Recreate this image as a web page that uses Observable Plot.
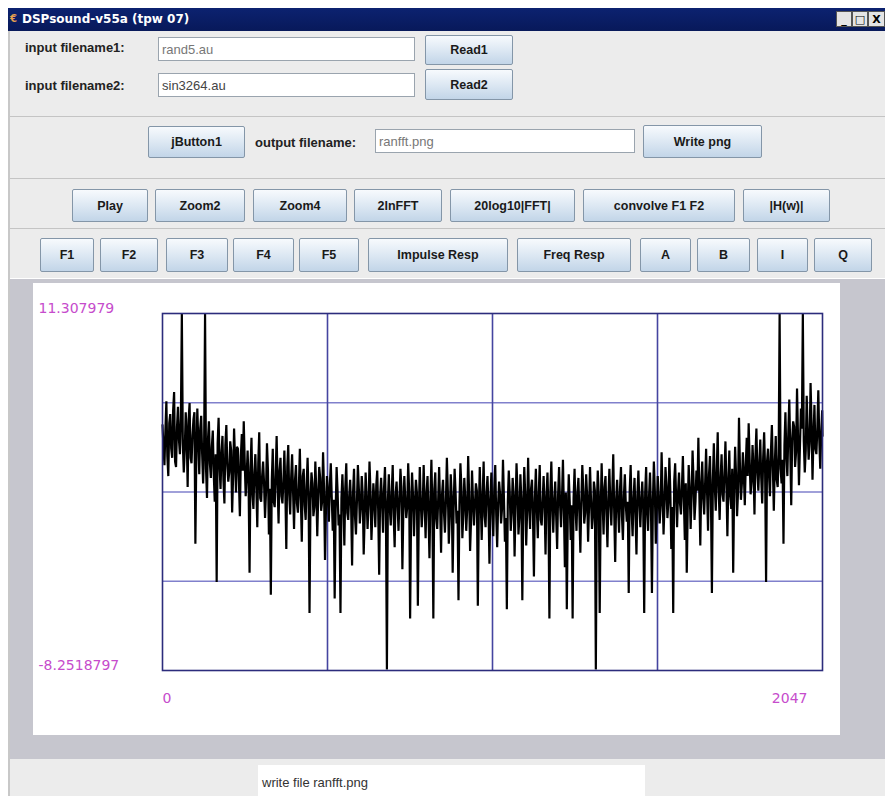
<!DOCTYPE html>
<html><head><meta charset="utf-8">
<script src="https://cdn.jsdelivr.net/npm/d3@7"></script>
<script src="https://cdn.jsdelivr.net/npm/@observablehq/plot@0.6"></script>
<style>
body{margin:0;width:885px;height:796px;overflow:hidden;background:#ffffff;font-family:"Liberation Sans",Arial,sans-serif;position:relative}
.a{position:absolute;box-sizing:border-box}
.title{left:8px;top:8px;width:877px;height:23px;background:linear-gradient(#0c2270,#08195a);color:#fff;font:bold 12px "DejaVu Sans";line-height:23px;padding-left:14px}
.win{left:8px;top:31px;width:877px;height:765px;background:#ececec;border-left:2px solid #c8c8c8}
.panel{left:10px;width:875px;border-top:1px solid #c4c4c4;border-bottom:1px solid #ffffff}
.lbl{font:bold 13px "Liberation Sans";color:#222;white-space:nowrap}
.fld{background:#fff;border:1px solid #9aa4ae;font:13px "Liberation Sans";color:#777;padding-left:3px;display:flex;align-items:center}
.btn{border:1px solid #8496a8;border-radius:2px;background:linear-gradient(#f7fafd 0%,#dde8f3 50%,#c2d5e8 100%);font:bold 12.5px "Liberation Sans";color:#1a1a1a;display:flex;align-items:center;justify-content:center;white-space:nowrap}
.wb{top:11px;width:16px;height:16px;background:#e4e4e4;border:1px solid #555;font:bold 11px "DejaVu Sans";color:#000;display:flex;align-items:center;justify-content:center}
</style></head>
<body>
<div class="a title">DSPsound-v55a (tpw 07)</div>
<div class="a" style="left:10px;top:13px;width:7px;height:14px;color:#e8a050;font:bold 10px 'DejaVu Sans'">&#8364;</div>
<div class="a wb" style="left:836px">_</div>
<div class="a wb" style="left:852px">&#9633;</div>
<div class="a wb" style="left:868px;width:17px">X</div>
<div class="a win"></div>
<div class="a panel" style="top:116px;height:63px"></div>
<div class="a panel" style="top:178px;height:51px"></div>
<div class="a panel" style="top:228px;height:51px"></div>

<div class="a lbl" style="left:25px;top:40px">input filename1:</div>
<div class="a fld" style="left:158px;top:37px;width:257px;height:24px">rand5.au</div>
<div class="a btn" style="left:425px;top:35px;width:88px;height:30px">Read1</div>
<div class="a lbl" style="left:25px;top:78px">input filename2:</div>
<div class="a fld" style="left:158px;top:73px;width:257px;height:24px;color:#444">sin3264.au</div>
<div class="a btn" style="left:425px;top:69px;width:88px;height:31px">Read2</div>

<div class="a btn" style="left:148px;top:126px;width:97px;height:32px">jButton1</div>
<div class="a lbl" style="left:255px;top:135px">output filename:</div>
<div class="a fld" style="left:375px;top:129px;width:260px;height:24px">ranfft.png</div>
<div class="a btn" style="left:643px;top:125px;width:119px;height:33px">Write png</div>

<div class="a btn" style="left:72px;top:189px;width:76px;height:33px">Play</div>
<div class="a btn" style="left:155px;top:189px;width:90px;height:33px">Zoom2</div>
<div class="a btn" style="left:253px;top:189px;width:94px;height:33px">Zoom4</div>
<div class="a btn" style="left:354px;top:189px;width:88px;height:33px">2lnFFT</div>
<div class="a btn" style="left:450px;top:189px;width:125px;height:33px">20log10|FFT|</div>
<div class="a btn" style="left:583px;top:189px;width:152px;height:33px">convolve F1 F2</div>
<div class="a btn" style="left:743px;top:189px;width:87px;height:33px">|H(w)|</div>

<div class="a btn" style="left:40px;top:238px;width:54px;height:34px">F1</div>
<div class="a btn" style="left:100px;top:238px;width:58px;height:34px">F2</div>
<div class="a btn" style="left:166px;top:238px;width:62px;height:34px">F3</div>
<div class="a btn" style="left:233px;top:238px;width:61px;height:34px">F4</div>
<div class="a btn" style="left:299px;top:238px;width:60px;height:34px">F5</div>
<div class="a btn" style="left:368px;top:238px;width:140px;height:34px">Impulse Resp</div>
<div class="a btn" style="left:517px;top:238px;width:114px;height:34px">Freq Resp</div>
<div class="a btn" style="left:640px;top:238px;width:51px;height:34px">A</div>
<div class="a btn" style="left:697px;top:238px;width:53px;height:34px">B</div>
<div class="a btn" style="left:757px;top:238px;width:51px;height:34px">I</div>
<div class="a btn" style="left:814px;top:238px;width:58px;height:34px">Q</div>

<div class="a" style="left:10px;top:279px;width:875px;height:480px;background:#c6c6ce"></div>
<div id="chart" class="a" style="left:33px;top:283px;width:807px;height:452px;background:#fff"></div>
<div class="a" style="left:10px;top:759px;width:875px;height:37px;background:#ececec"></div>
<div class="a" style="left:258px;top:765px;width:387px;height:31px;background:#fff;font:13px 'Liberation Sans';color:#333;padding:10px 0 0 4px">write file ranfft.png</div>

<script>
// axis end values and labels as drawn by the app
const yMin = -8.2518797, yMax = 11.307979;
const xMin = 0, xMax = 2047;
const yTickLabels = ["11.307979", "-8.2518797"];
const xTickLabels = ["0", "2047"];

// 2 ln|FFT| magnitudes at bins 0,6,12,...,2046 and 2047
const segA = [5.2,3.0,6.5,2.4,5.8,3.4,7.0,2.9,6.2,3.6,11.3,2.6,5.9,1.8,6.4,3.1,5.5,-1.3,6.1,2.5,5.7];
const segB = [2.0,11.3,1.2,5.4,2.3,4.9,1.0,-3.4,5.6,1.7,4.6,0.9,5.2,2.1,4.3,0.4,5.0,1.5,3.9,0.2,4.7,5.4,1.3];
const segC = [3.8,-2.9,4.5,0.6,3.6,-0.4,4.8,1.0,3.2,0.1,4.2,-0.8,-4.1,3.9,0.7,4.6,-0.2,3.4,0.9,3.8,-1.6,4.1,0.3];
const segD = [3.6,-0.5,3.0,0.4,3.9,-1.2,2.8,0.0,3.4,-5.1,2.6,0.2,3.2,-0.9,2.9,0.5,3.7,-2.2,2.4,-0.1,3.1];
const segE = [-0.6,-4.3,2.9,-0.3,-5.1,2.5,-1.4,3.1,0.0,2.2,-2.5,2.8,-0.8,3.0,-0.2,2.4,-1.9,2.6,-0.5,3.2,-1.1,2.0,-0.4,2.7,-3.0,2.3,-0.7,2.9,-8.2,2.5,-0.3,3.0,-1.5,2.1,-0.6,2.8,-2.7,2.4,0.1,3.1,-5.4,2.6,-0.9,2.2,-4.7,2.9,-0.4];
const segF = [3.0,-1.0,2.4,-2.1,3.3,-5.4,2.6,-0.5,2.9,-1.8,2.2,-0.7,3.4,-1.3,2.5,-2.9,2.8,-0.2,-4.4,3.1,-1.0,2.3,-0.6,3.5,-1.7,2.7,-0.3,2.0,-4.7,2.9,-1.1,3.2,-0.4,2.4,-2.4,2.6,-0.9,3.0,-1.5,2.1,-0.2,3.3,-1.2,-4.9,2.7,-0.6,2.3,-2.0,3.1,-0.8,2.5,-4.4,2.9,-1.4,3.4,-0.5,2.2,-3.1,2.8,-1.0,3.0,-0.3,2.4,-1.9,2.6,-5.4,3.2,-0.7,2.1,-1.6,2.9,-0.4,3.3,-2.6,-4.9,2.5,-1.1];
const segG = [-5.4,2.8,-0.6,2.3,-1.8,3.0,-0.2,2.5,-1.2,2.9,-0.5,2.1,-8.2,2.7,-5.1,3.1,-0.8,2.4,-1.5,2.8,-0.3,3.6,-2.3,2.2,-0.7,2.9,-1.1,2.5,-0.1,-4.0,3.0,-0.9,2.3,-1.9,2.7,-0.4,2.1,-5.1,2.9,-0.6,2.6,-4.0,3.2,-1.3,2.4,-0.2];
const segH = [3.7,-0.8,2.9,0.1,3.4,-1.6,-5.1,3.1,-0.4,2.6,0.3,3.5,-1.1,-2.9,3.0,-0.5,3.8,0.0,2.7,4.5,-1.4,3.2];
const segI = [0.3,3.9,-0.6,3.5,-4.0,4.2,0.5,4.8,0.0,3.6,1.0,4.3,-0.9,3.8,0.6,-2.9,4.0,0.2,5.6,1.1,3.7];
const segJ = [0.8,4.5,5.3,1.4,4.1,0.3,5.0,1.6,4.4,0.9,4.8,-3.4,3.9,1.3,5.2,0.5,4.6,1.8,11.3,2.0];
const segK = [-1.3,5.9,2.4,6.6,0.8,5.4,2.9,7.2,1.9,6.1,11.3,2.6,6.8,3.3,7.5,2.2,6.3,3.6,7.1,2.8,6.0,4.6];

// magnitudes at the in-between bins 3,9,15,...,2043
const midA = [4.0,4.9,3.5,5.3,3.9,6.0,3.2,5.1,4.4,5.6,4.2,3.8,4.7,5.5,3.4,4.6,5.9,3.7,4.3,5.0,3.6];
const midB = [3.9,2.8,4.4,3.1,4.0,2.5,3.6,4.2,2.9,3.7,2.2,4.1,3.0,2.6,3.8,2.4,3.3,4.0,2.1,3.5,2.7,3.2,2.4];
const midC = [2.0,2.9,1.4,2.6,1.8,3.1,1.2,2.4,2.0,1.5,2.8,1.7,2.2,1.0,2.5,1.9,2.7,1.3,2.1,1.6,2.9,1.4,2.3];
const midD = [1.5,2.2,0.9,1.8,1.2,2.4,0.8,1.9,1.4,1.1,2.0,0.7,1.6,1.3,2.3,1.0,1.7,0.6,1.5,1.9,1.2];
const midE = [1.1,0.5,1.6,0.3,1.2,0.9,1.8,0.4,1.3,0.7,1.5,0.2,1.0,1.7,0.6,1.4,0.1,1.2,0.8,1.6,0.4,1.1,1.9,0.5,1.3,0.9,1.7,0.3,1.0,0.6,1.5,0.2,1.4,0.8,1.2,1.8,0.5,1.1,0.7,1.6,0.3,1.3,0.9,1.5,0.4,1.0,0.7];
const midF = [0.9,1.5,0.3,1.2,0.6,1.7,0.1,1.1,0.8,1.4,0.4,1.0,1.6,0.2,1.3,0.7,1.5,0.5,0.9,1.8,0.3,1.2,0.6,1.4,0.0,1.1,0.8,1.6,0.4,1.0,1.3,0.2,1.5,0.7,1.1,0.5,1.7,0.3,0.9,1.4,0.6,1.2,0.1,1.0,1.5,0.4,1.3,0.8,1.6,0.2,1.1,0.7,1.4,0.5,0.9,1.7,0.3,1.2,0.6,1.5,0.0,1.0,0.8,1.3,0.4,1.6,0.7,1.1,0.2,1.4,0.9,1.2,0.5,1.5,0.3,1.0,0.8];
const midG = [1.2,0.6,1.5,0.3,1.0,1.7,0.4,1.3,0.8,1.1,0.2,1.6,0.7,1.4,0.5,1.0,1.8,0.3,1.2,0.9,1.5,0.4,1.1,0.6,1.7,0.2,1.3,0.8,1.0,1.6,0.5,1.2,0.3,1.4,0.9,1.1,0.6,1.5,0.4,1.3,0.7,1.0,1.6,0.5,1.2,0.8];
const midH = [1.4,0.8,1.9,1.0,1.6,0.7,2.1,1.2,1.5,0.9,1.8,1.1,2.0,0.6,1.7,1.3,2.2,1.0,1.6,1.4,2.0,1.2];
const midI = [2.0,1.5,2.5,1.2,2.2,1.8,2.7,1.6,2.3,1.4,2.6,1.9,2.1,1.3,2.8,1.7,2.4,1.5,2.9,2.0,2.5];
const midJ = [3.0,2.4,3.3,2.1,2.8,3.5,2.6,3.1,2.3,3.4,2.7,3.2,2.5,3.7,2.9,3.0,2.2,3.6,2.8,3.3];
const midK = [4.1,3.5,4.8,3.9,4.4,5.1,3.7,4.6,4.0,5.0,4.3,3.8,4.9,4.2,5.3,4.5,3.9,5.0,4.4,4.7];

const mag = [].concat(segA, segB, segC, segD, segE, segF, segG, segH, segI, segJ, segK);
const mid = [].concat(midA, midB, midC, midD, midE, midF, midG, midH, midI, midJ, midK);
const bins = d3.range(0, 2047, 6).concat([2047]);
const midBins = d3.range(3, 2047, 6);

const data = [];
for (let i = 0; i < Math.min(mag.length, bins.length); i++) {
  data.push({k: bins[i], v: mag[i]});
  if (i < mid.length && i < midBins.length) data.push({k: midBins[i], v: mid[i]});
}
data.sort((a, b) => a.k - b.k);

const yGrid = d3.range(1, 4).map(i => yMin + i * (yMax - yMin) / 4);
const xGrid = d3.range(1, 4).map(i => xMin + i * (xMax - xMin) / 4);

const yLab = [{y: yMax, t: yTickLabels[0]}, {y: yMin, t: yTickLabels[1]}];
const labelStyle = {fill: "#c64ccc", fontSize: 14, fontFamily: "DejaVu Sans"};

const chart = Plot.plot({
  width: 807, height: 452,
  marginLeft: 129, marginRight: 18, marginTop: 30, marginBottom: 65,
  x: {domain: [xMin, xMax], axis: null},
  y: {domain: [yMin, yMax], axis: null},
  style: {background: "white", fontFamily: "DejaVu Sans", overflow: "visible"},
  marks: [
    Plot.ruleY(yGrid, {stroke: "#8080cc", strokeWidth: 1.6}),
    Plot.ruleX(xGrid, {y1: yMin, y2: yMax, stroke: "#4545a0", strokeWidth: 1.6}),
    Plot.lineY(data, {x: "k", y: "v", stroke: "#000", strokeWidth: 2.2, strokeLinejoin: "bevel"}),
    Plot.frame({stroke: "#2c2c7c", strokeWidth: 1.6}),
    Plot.text(yLab, {x: xMin, y: "y", text: "t", dx: -124, dy: -5, textAnchor: "start", ...labelStyle}),
    Plot.text([xTickLabels[0]], {x: xMin, y: yMin, text: d => d, dx: 0, dy: 28, textAnchor: "start", ...labelStyle}),
    Plot.text([xTickLabels[1]], {x: xMax, y: yMin, text: d => d, dx: -15, dy: 28, textAnchor: "end", ...labelStyle})
  ]
});
document.getElementById("chart").appendChild(chart);
</script>
</body></html>
